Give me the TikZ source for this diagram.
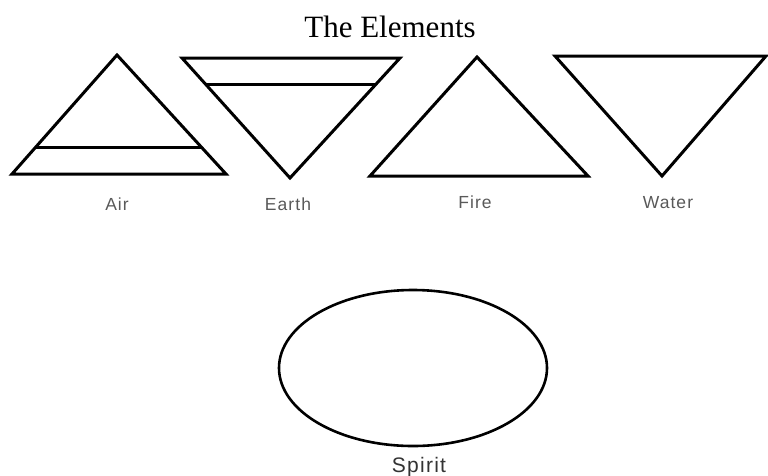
\documentclass[tikz,border=0pt]{standalone}
\usepackage{fontspec}
\setmainfont{Liberation Serif}
\newfontfamily\labelfont{Liberation Sans}[LetterSpace=6]
\usetikzlibrary{positioning,calc}

\begin{document}
\begin{tikzpicture}[
    x=1pt, y=-1pt,
    symbol/.style={line width=3pt, line join=miter},
    orb/.style={line width=2.6pt},
    elname/.style={font=\labelfont\fontsize{17.5}{20}\selectfont, text=black!65,
      anchor=base, inner sep=0pt},
    heading/.style={font=\fontsize{31}{36}\selectfont, anchor=base, inner sep=0pt}
  ]
    \useasboundingbox (0,0) rectangle (768,475);
    \node[heading] (title) at (390,37) {The Elements};

    % air
    \coordinate (airtop) at (117,55);
    \coordinate (airright) at (226,174);
    \coordinate (airleft) at (12,174);
    \draw[symbol] (airtop) -- (airright) -- (airleft) -- cycle;
    \draw[symbol] ($(airtop)!0.78!(airleft)$) -- ($(airtop)!0.78!(airright)$);
    \node[elname] (air) at (117,210) {Air};

    % earth
    \coordinate (earthleft) at (182,58);
    \coordinate (earthright) at (400,58);
    \coordinate (earthbot) at (290,178);
    \draw[symbol] (earthleft) -- (earthright) -- (earthbot) -- cycle;
    \draw[symbol] ($(earthleft)!0.22!(earthbot)$) -- ($(earthright)!0.22!(earthbot)$);
    \node[elname] (earth) at (288,210) {Earth};

    % fire
    \coordinate (firetop) at (477,57);
    \coordinate (fireright) at (588,176);
    \coordinate (fireleft) at (370,176);
    \draw[symbol] (firetop) -- (fireright) -- (fireleft) -- cycle;
    \node[elname] (fire) at (475,208) {Fire};

    % water
    \coordinate (waterleft) at (555,56);
    \coordinate (waterright) at (766,56);
    \coordinate (waterbot) at (662,176);
    \draw[symbol] (waterleft) -- (waterright) -- (waterbot) -- cycle;
    \node[elname] (water) at (668,208) {Water};

    % spirit
    \coordinate (spiritc) at (413,368);
    \draw[orb] (spiritc) ellipse [x radius=134, y radius=78];
    \node[elname, font=\labelfont\fontsize{21}{24}\selectfont, text=black!80] (spirit) at (419,472) {Spirit};
  \end{tikzpicture}
\end{document}
